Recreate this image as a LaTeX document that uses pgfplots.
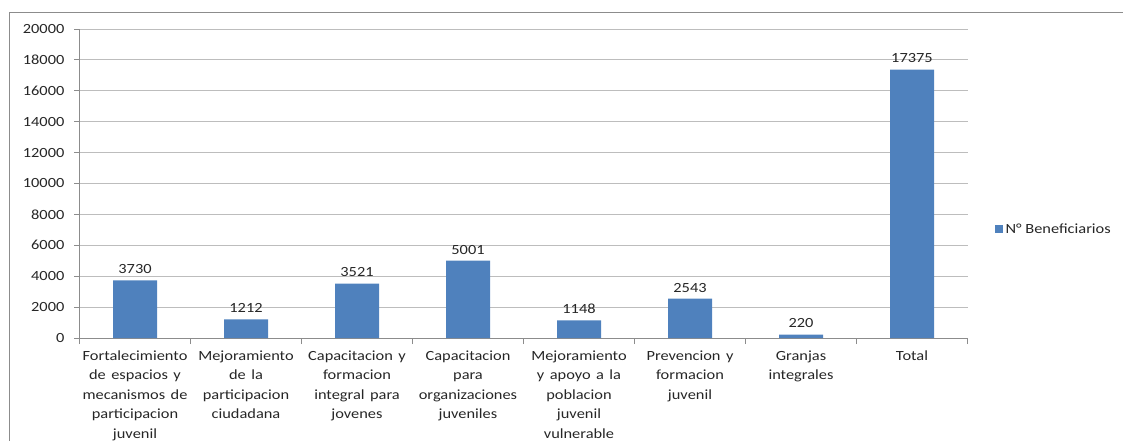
\documentclass[border=0pt]{standalone}
\usepackage{pgfplots}
\pgfplotsset{compat=1.18}
\usepackage{fontspec}
\setmainfont{Carlito}
\definecolor{barblue}{HTML}{4F81BD}
\definecolor{gridgray}{HTML}{BDBDBD}
\definecolor{axgray}{HTML}{8C8C8C}
\definecolor{txt}{HTML}{262626}
\begin{document}
\begin{tikzpicture}
\path[use as bounding box] (0pt,0pt) rectangle (1123pt,441pt);
\draw[axgray,line width=1.2pt] (9.5pt,-5pt) -- (9.5pt,428.5pt) -- (1130pt,428.5pt);
\begin{axis}[
  at={(79.5pt,103pt)}, anchor=south west,
  scale only axis, width=888pt, height=309pt,
  xmin=-0.5, xmax=7.5, ymin=0, ymax=20000,
  ytick={0,2000,...,20000},
  /pgf/number format/assume math mode=true,
  /pgf/number format/1000 sep={},
  scaled y ticks=false,
  ymajorgrids, grid style={gridgray, line width=0.8pt},
  axis x line*=bottom, axis y line*=left,
  axis line style={axgray, line width=0.8pt, -},
  xtick={0,...,7},
  major x tick style={draw=none},
  minor xtick={-0.5,0.5,...,7.5},
  minor x tick style={axgray, line width=0.8pt},
  minor tick length=6pt,
  major tick length=5pt,
  tick align=outside,
  ytick style={axgray, line width=0.8pt},
  xticklabels={
    {Fortalecimiento\\de espacios y\\mecanismos de\\participacion\\juvenil},
    {Mejoramiento\\de la\\participacion\\ciudadana},
    {Capacitacion y\\formacion\\integral para\\jovenes},
    {Capacitacion\\para\\organizaciones\\juveniles},
    {Mejoramiento\\y apoyo a la\\poblacion\\juvenil\\vulnerable},
    {Prevencion y\\formacion\\juvenil},
    {Granjas\\integrales},
    {Total}},
  xticklabel style={align=center, text=txt, font=\fontsize{14}{19.5}\selectfont, text width=95pt, anchor=north, yshift=-4pt, xscale=1.17},
  yticklabel style={text=txt, font=\fontsize{14}{16}\selectfont, xshift=-6pt, xscale=1.17},
  ybar, bar width=44pt,
  nodes near coords,
  nodes near coords style={text=txt, font=\fontsize{14}{16}\selectfont, /pgf/number format/assume math mode=true, /pgf/number format/1000 sep={}, yshift=3pt, xscale=1.17},
  legend style={draw=none, at={(1.027,0.35)}, anchor=west, font=\fontsize{14}{16}\selectfont, text=txt, fill=none, nodes={xscale=1.17}},
  legend image code/.code={\fill[barblue] (0cm,-0.12cm) rectangle (0.3cm,0.18cm);},
]
\addplot[fill=barblue, draw=none] coordinates {(0,3730) (1,1212) (2,3521) (3,5001) (4,1148) (5,2543) (6,220) (7,17375)};
\addlegendentry{N° Beneficiarios}
\end{axis}
\end{tikzpicture}
\end{document}
